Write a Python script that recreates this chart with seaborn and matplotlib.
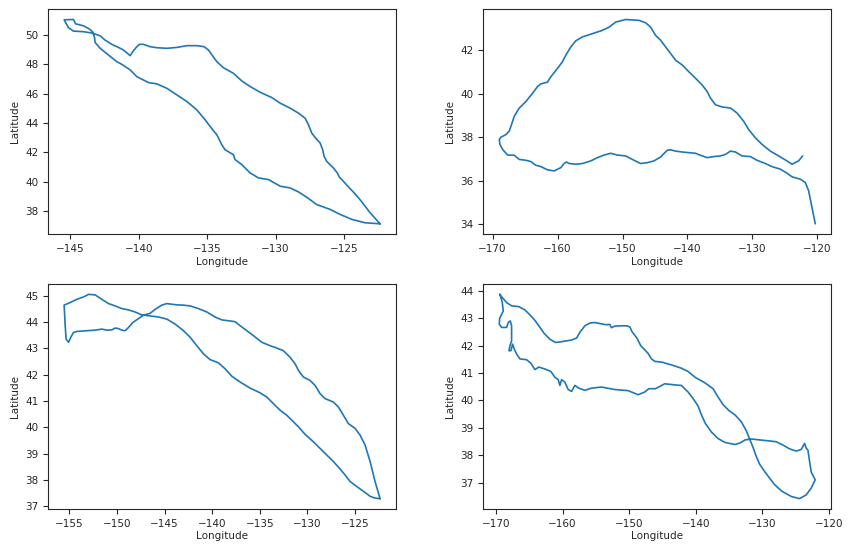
import matplotlib
matplotlib.use("Agg")
import matplotlib.pyplot as plt
import seaborn as sns

# four drifter tracks
lon1 = [-122.37, -123.10, -123.71, -124.20, -124.73, -125.17, -125.34, -125.49, -125.78, -126.27,
        -126.46, -126.56, -126.75, -127.07, -127.36, -127.60, -127.85, -128.33, -128.94, -129.67,
        -130.28, -131.13, -131.86, -132.47, -133.08, -133.81, -134.29, -134.61, -134.90, -135.22,
        -135.75, -136.48, -137.21, -137.94, -138.67, -139.16, -139.65, -139.94, -140.18, -140.43,
        -140.62, -140.82, -141.11, -141.47, -141.96, -142.45, -142.81, -143.42, -144.03, -144.76,
        -145.12, -145.44, -144.76, -144.61, -144.03, -143.66, -143.37, -143.22, -143.18, -142.81,
        -142.20, -141.59, -141.23, -140.62, -140.13, -139.28, -138.67, -137.94, -137.21, -136.48,
        -135.75, -135.15, -134.54, -134.29, -133.93, -133.69, -133.08, -132.96, -132.47, -131.86,
        -131.25, -130.52, -129.67, -128.94, -128.33, -127.73, -127.00, -126.02, -125.29, -124.44,
        -123.47, -122.37]
lat1 = [37.14, 37.89, 38.64, 39.18, 39.70, 40.15, 40.31, 40.60, 40.94, 41.39,
        41.73, 42.18, 42.64, 42.97, 43.31, 43.88, 44.33, 44.67, 45.01, 45.35,
        45.73, 46.09, 46.48, 46.86, 47.38, 47.76, 48.17, 48.58, 48.96, 49.19,
        49.26, 49.26, 49.14, 49.08, 49.12, 49.19, 49.35, 49.35, 49.14, 48.85,
        48.58, 48.74, 48.96, 49.14, 49.35, 49.64, 49.93, 50.12, 50.21, 50.25,
        50.48, 51.02, 51.04, 50.75, 50.61, 50.43, 50.21, 49.82, 49.48, 49.08,
        48.62, 48.17, 47.99, 47.61, 47.15, 46.75, 46.66, 46.36, 45.91, 45.46,
        44.89, 44.22, 43.47, 43.20, 42.52, 42.18, 41.84, 41.51, 41.17, 40.60,
        40.26, 40.15, 39.70, 39.58, 39.31, 38.95, 38.45, 38.12, 37.78, 37.44,
        37.21, 37.14]

lon2 = [-122.27, -122.89, -123.91, -124.68, -125.96, -127.24, -128.52, -129.54, -130.57, -131.34,
        -132.36, -133.38, -134.66, -135.69, -136.46, -136.97, -137.74, -138.76, -139.79, -140.81,
        -141.83, -142.60, -143.37, -144.14, -144.91, -145.67, -146.44, -147.47, -149.51, -151.05,
        -152.07, -153.10, -154.63, -156.17, -157.19, -157.96, -158.73, -159.24, -160.01, -161.03,
        -161.55, -162.57, -163.08, -163.85, -164.87, -165.90, -166.67, -166.92, -167.43, -167.95,
        -168.71, -168.97, -168.87, -168.46, -167.69, -166.67, -165.90, -164.87, -164.11, -163.34,
        -162.57, -161.55, -160.52, -159.50, -158.99, -158.63, -158.22, -157.19, -156.17, -154.89,
        -153.87, -152.84, -151.82, -150.79, -149.51, -148.49, -147.21, -146.19, -145.16, -144.14,
        -143.11, -142.60, -141.83, -140.81, -139.79, -138.76, -137.99, -136.97, -135.95, -134.92,
        -134.15, -133.38, -132.62, -131.59, -130.31, -129.29, -128.01, -126.99, -125.70, -124.68,
        -123.91, -122.63, -121.86, -121.35, -120.94, -120.58, -120.33]
lat2 = [37.14, 36.91, 36.76, 36.91, 37.14, 37.36, 37.67, 37.97, 38.35, 38.73,
        39.11, 39.34, 39.39, 39.49, 39.80, 40.10, 40.40, 40.71, 41.01, 41.32,
        41.54, 41.85, 42.15, 42.46, 42.68, 43.06, 43.26, 43.37, 43.41, 43.29,
        43.06, 42.91, 42.76, 42.61, 42.43, 42.15, 41.77, 41.47, 41.16, 40.78,
        40.53, 40.45, 40.33, 40.02, 39.64, 39.34, 38.96, 38.73, 38.28, 38.12,
        38.00, 37.90, 37.67, 37.44, 37.18, 37.17, 36.98, 36.94, 36.88, 36.71,
        36.65, 36.50, 36.45, 36.60, 36.79, 36.86, 36.79, 36.76, 36.79, 36.91,
        37.06, 37.18, 37.26, 37.18, 37.14, 36.98, 36.79, 36.83, 36.91, 37.09,
        37.40, 37.42, 37.36, 37.32, 37.29, 37.26, 37.17, 37.06, 37.11, 37.14,
        37.21, 37.36, 37.32, 37.14, 37.11, 36.94, 36.79, 36.65, 36.53, 36.35,
        36.18, 36.07, 35.92, 35.54, 34.93, 34.40, 34.02]

lon3 = [-122.36, -122.89, -123.41, -123.94, -124.46, -124.99, -125.69, -126.22, -126.74, -127.27,
        -128.14, -128.67, -129.19, -129.72, -130.42, -130.94, -131.29, -131.82, -132.52, -133.22,
        -133.92, -134.79, -135.67, -136.37, -137.07, -137.59, -138.12, -139.00, -139.70, -140.57,
        -141.45, -142.32, -143.02, -143.72, -144.77, -145.30, -146.00, -146.52, -147.22, -147.75,
        -148.34, -148.80, -149.15, -149.50, -149.85, -150.20, -150.55, -151.07, -151.60, -152.30,
        -153.18, -154.23, -154.58, -154.86, -155.10, -155.35, -155.45, -155.52, -155.56, -154.93,
        -154.23, -153.53, -153.00, -152.30, -151.60, -150.90, -150.20, -149.50, -148.80, -148.10,
        -147.40, -146.52, -145.65, -144.77, -143.90, -143.02, -142.32, -141.62, -140.92, -140.22,
        -139.35, -138.64, -137.94, -137.07, -136.02, -134.97, -134.27, -133.57, -132.87, -132.17,
        -131.64, -130.94, -130.24, -129.37, -128.67, -127.97, -127.27, -126.57, -126.04, -125.51,
        -124.81, -124.11, -123.41, -122.89, -122.36]
lat3 = [37.29, 37.94, 38.70, 39.33, 39.70, 39.96, 40.14, 40.46, 40.77, 40.96,
        41.09, 41.28, 41.59, 41.78, 41.91, 42.16, 42.41, 42.66, 42.91, 43.01,
        43.10, 43.23, 43.48, 43.67, 43.86, 44.01, 44.04, 44.08, 44.19, 44.38,
        44.51, 44.61, 44.64, 44.65, 44.70, 44.64, 44.48, 44.33, 44.26, 44.13,
        43.98, 43.79, 43.67, 43.69, 43.75, 43.77, 43.70, 43.69, 43.73, 43.69,
        43.67, 43.64, 43.60, 43.42, 43.23, 43.35, 43.86, 44.36, 44.64, 44.74,
        44.86, 44.95, 45.05, 45.03, 44.86, 44.70, 44.61, 44.51, 44.46, 44.38,
        44.27, 44.23, 44.19, 44.11, 43.92, 43.67, 43.42, 43.10, 42.79, 42.57,
        42.45, 42.22, 41.94, 41.72, 41.49, 41.31, 41.15, 40.90, 40.65, 40.46,
        40.27, 40.02, 39.73, 39.45, 39.20, 38.95, 38.70, 38.42, 38.19, 37.94,
        37.75, 37.57, 37.38, 37.31, 37.29]

lon4 = [-169.40, -169.25, -169.05, -168.90, -169.15, -169.45, -169.50, -169.15, -168.40, -168.15,
        -167.85, -167.65, -167.65, -167.90, -168.05, -167.75, -167.50, -167.25, -166.90, -166.40,
        -165.40, -164.75, -164.15, -163.55, -162.65, -161.75, -161.15, -160.65, -160.40, -160.15,
        -159.65, -159.15, -158.65, -158.15, -157.55, -156.65, -155.65, -154.15, -152.15, -150.15,
        -148.65, -147.65, -147.05, -146.05, -144.65, -143.15, -142.15, -141.15, -140.40, -139.65,
        -139.15, -138.55, -137.65, -136.65, -135.65, -134.15, -133.40, -132.55, -131.65, -130.40,
        -128.90, -127.90, -126.90, -125.90, -124.90, -124.15, -123.65, -123.40, -123.15, -122.90,
        -122.65, -122.05, -122.65, -123.40, -124.40, -125.65, -127.05, -128.15, -128.90, -129.65,
        -130.40, -130.90, -131.40, -131.90, -132.40, -133.15, -134.05, -135.05, -135.90, -136.65,
        -137.40, -138.65, -140.05, -141.15, -142.15, -143.65, -145.05, -146.15, -146.65, -147.15,
        -147.65, -148.25, -148.80, -149.55, -149.90, -150.40, -151.15, -152.15, -152.65, -152.90,
        -153.40, -154.15, -155.15, -155.90, -156.65, -157.40, -157.90, -158.65, -159.65, -160.15,
        -161.05, -161.90, -162.75, -163.40, -164.15, -164.90, -165.65, -166.55, -167.65, -168.40,
        -168.90, -169.25, -169.40]
lat4 = [43.88, 43.76, 43.58, 43.27, 43.15, 43.00, 42.79, 42.67, 42.67, 42.85,
        42.91, 42.73, 42.18, 42.00, 41.82, 41.82, 42.06, 41.88, 41.70, 41.52,
        41.49, 41.36, 41.13, 41.22, 41.15, 41.06, 40.85, 40.76, 40.55, 40.76,
        40.67, 40.40, 40.33, 40.55, 40.45, 40.37, 40.45, 40.49, 40.40, 40.36,
        40.21, 40.31, 40.43, 40.43, 40.61, 40.57, 40.55, 40.31, 40.07, 39.80,
        39.48, 39.16, 38.85, 38.61, 38.47, 38.39, 38.44, 38.56, 38.59, 38.56,
        38.52, 38.49, 38.37, 38.23, 38.15, 38.21, 38.43, 38.25, 38.19, 37.77,
        37.38, 37.10, 36.80, 36.55, 36.41, 36.49, 36.68, 36.92, 37.16, 37.40,
        37.67, 37.95, 38.29, 38.59, 38.89, 39.22, 39.46, 39.64, 39.85, 40.13,
        40.43, 40.65, 40.84, 41.06, 41.18, 41.30, 41.40, 41.43, 41.52, 41.72,
        41.85, 42.00, 42.27, 42.51, 42.69, 42.73, 42.73, 42.72, 42.66, 42.78,
        42.77, 42.80, 42.85, 42.83, 42.73, 42.49, 42.28, 42.21, 42.17, 42.15,
        42.12, 42.24, 42.45, 42.67, 42.93, 43.13, 43.31, 43.43, 43.46, 43.58,
        43.72, 43.82, 43.88]

tracks = [(lon1, lat1), (lon2, lat2), (lon3, lat3), (lon4, lat4)]

sns.set_style("ticks")
plt.rcParams['font.family'] = ['DejaVu Sans']
plt.rcParams['font.size'] = 7.5

fig, axes = plt.subplots(2, 2, figsize=(8.48, 5.46), dpi=100)
fig.subplots_adjust(left=0.057, right=0.98, top=0.983, bottom=0.068, wspace=0.252, hspace=0.223)

for ax, (lon, lat) in zip(axes.flat, tracks):
    sns.lineplot(x=lon, y=lat, sort=False, estimator=None, color='#1f77b4', linewidth=1.2, ax=ax)
    ax.set_xlabel('Longitude', labelpad=2)
    ax.set_ylabel('Latitude')
    ax.tick_params(labelsize=7.5)

fig.savefig('out.png', dpi=100)
